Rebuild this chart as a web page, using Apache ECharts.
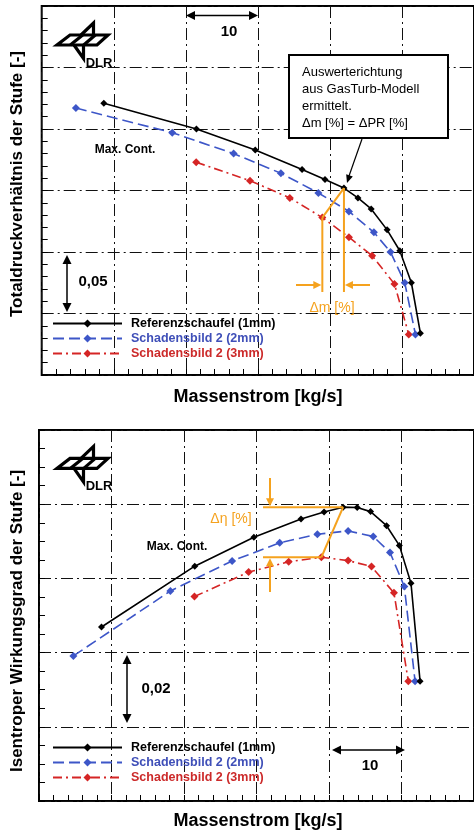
<!DOCTYPE html>
<html>
<head>
<meta charset="utf-8">
<script src="https://cdn.jsdelivr.net/npm/echarts@6/dist/echarts.min.js"></script>
<style>
html,body{margin:0;padding:0;background:#fff;}
#c{width:474px;height:834px;}
</style>
</head>
<body>
<div id="c"></div>
<script>
// ---- data ----
const seriesNames = ['Referenzschaufel (1mm)', 'Schadensbild 2 (2mm)', 'Schadensbild 2 (3mm)'];
// mass flow (x) for each curve, identical operating points in both panels
const refX = [8.62, 21.48, 29.64, 36.14, 39.32, 41.95, 43.89, 45.73, 47.94, 49.70, 51.31, 52.56];
const sb2X = [4.74, 18.12, 26.64, 33.20, 38.40, 42.64, 46.10, 48.41, 50.39, 51.87];
const sb3X = [21.44, 28.91, 34.44, 38.95, 42.64, 45.86, 48.96, 50.94];
// total pressure ratio (top panel)
const refPR = [1.421, 1.400, 1.383, 1.367, 1.359, 1.352, 1.344, 1.335, 1.318, 1.301, 1.275, 1.234];
const sb2PR = [1.417, 1.397, 1.380, 1.364, 1.348, 1.333, 1.316, 1.300, 1.275, 1.233];
const sb3PR = [1.373, 1.358, 1.344, 1.328, 1.312, 1.297, 1.274, 1.233];
// isentropic efficiency (bottom panel)
const refEta = [0.8469, 0.8633, 0.8711, 0.8760, 0.8779, 0.8792, 0.8791, 0.8780, 0.8742, 0.8689, 0.8587, 0.8323];
const sb2Eta = [0.8391, 0.8566, 0.8647, 0.8696, 0.8719, 0.8728, 0.8713, 0.8670, 0.8578, 0.8323];
const sb3Eta = [0.8551, 0.8617, 0.8645, 0.8657, 0.8648, 0.8632, 0.8561, 0.8323];
// axis ranges
const xRange = [0, 60, 10];
const prRange = [1.20, 1.50, 0.05];
const etaRange = [0.80, 0.90, 0.02];

const BLACK = '#000000', BLUE = '#3d56c8', RED = '#d52525', ORANGE = '#f5a21e';
const FONT = '"Liberation Sans", Arial, sans-serif';

function zip(xs, ys) { return xs.map((x, i) => [x, ys[i]]); }

const dashDot = [12, 4, 2, 4];
function mkX(gi) {
  return {
    type: 'value', gridIndex: gi, min: xRange[0], max: xRange[1], interval: xRange[2],
    axisLine: { show: false }, axisLabel: { show: false },
    axisTick: { show: true, inside: true, length: 6, lineStyle: { color: '#000', width: 1 } },
    minorTick: { show: true, splitNumber: 5, length: 6, lineStyle: { color: '#000', width: 1 } },
    splitLine: { show: true, lineStyle: { color: '#111', width: 1, type: dashDot } }
  };
}
function mkY(gi, r, minorN) {
  return {
    type: 'value', gridIndex: gi, min: r[0], max: r[1], interval: r[2],
    axisLine: { show: false }, axisLabel: { show: false },
    axisTick: { show: true, inside: true, length: 6, lineStyle: { color: '#000', width: 1 } },
    minorTick: { show: true, splitNumber: minorN, length: 6, lineStyle: { color: '#000', width: 1 } },
    splitLine: { show: true, lineStyle: { color: '#111', width: 1, type: dashDot } }
  };
}
const styles = [
  { color: BLACK, type: 'solid', size: 7 },
  { color: BLUE, type: [11, 5], size: 8 },
  { color: RED, type: [9, 4, 2, 4], size: 8 }
];
function mkSeries(gi, idx, data) {
  const s = styles[idx];
  return {
    type: 'line', name: seriesNames[idx], xAxisIndex: gi, yAxisIndex: gi,
    data: data, symbol: 'diamond', symbolSize: s.size, showSymbol: true,
    lineStyle: { color: s.color, width: 1.6, type: s.type },
    itemStyle: { color: s.color }, z: 5 - idx, animation: false
  };
}
function mkLegend(top) {
  return {
    orient: 'vertical', left: 52, top: top, itemWidth: 69, itemHeight: 10, itemGap: 2, padding: 0,
    selectedMode: false,
    textStyle: { fontFamily: FONT, fontWeight: 'bold', fontSize: 12.5, color: '#000', padding: [0, 0, 0, 4] },
    data: [
      { name: seriesNames[0], textStyle: { color: '#000' } },
      { name: seriesNames[1], textStyle: { color: '#3f4fb8' } },
      { name: seriesNames[2], textStyle: { color: '#cc2a2a' } }
    ]
  };
}

const chart = echarts.init(document.getElementById('c'), null, { renderer: 'canvas' });
const option = {
  backgroundColor: '#fff',
  animation: false,
  grid: [
    { left: 41.7, top: 6, width: 434, height: 369, show: true, borderColor: '#000', borderWidth: 2, backgroundColor: 'transparent' },
    { left: 39, top: 430, width: 438, height: 371, show: true, borderColor: '#000', borderWidth: 2, backgroundColor: 'transparent' }
  ],
  xAxis: [mkX(0), mkX(1)],
  yAxis: [mkY(0, prRange, 5), mkY(1, etaRange, 4)],
  legend: [mkLegend(317), mkLegend(741)],
  series: [
    mkSeries(0, 0, zip(refX, refPR)), mkSeries(0, 1, zip(sb2X, sb2PR)), mkSeries(0, 2, zip(sb3X, sb3PR)),
    mkSeries(1, 0, zip(refX, refEta)), mkSeries(1, 1, zip(sb2X, sb2Eta)), mkSeries(1, 2, zip(sb3X, sb3Eta))
  ]
};
chart.setOption(option);

// ---- annotations ----
const G = [];
function line(x1, y1, x2, y2, color, w) {
  G.push({ type: 'line', z: 20, shape: { x1, y1, x2, y2 }, style: { stroke: color, lineWidth: w || 1.5 } });
}
function head(x, y, dx, dy, color, L, W) {
  L = L || 8; W = W || 4;
  const n = Math.hypot(dx, dy); dx /= n; dy /= n;
  const bx = x - dx * L, by = y - dy * L;
  G.push({ type: 'polygon', z: 21, shape: { points: [[x, y], [bx - dy * W, by + dx * W], [bx + dy * W, by - dx * W]] }, style: { fill: color } });
}
function text(t, x, y, font, color, align, rot) {
  G.push({ type: 'text', z: 22, x, y, rotation: rot || 0,
    style: { text: t, font, fill: color, align: align || 'center', verticalAlign: 'middle' } });
}
function logo(ox, oy) {
  const st = { stroke: '#000', lineWidth: 3.2, fill: null, lineJoin: 'miter' };
  const P = (x, y) => [ox + x, oy + y];
  G.push({ type: 'polygon', z: 20, shape: { points: [P(30, 25), P(68, 25), P(57, 35), P(17, 35)] }, style: st });
  G.push({ type: 'line', z: 20, shape: { x1: ox + 42.7, y1: oy + 25, x2: ox + 30.3, y2: oy + 35 }, style: st });
  G.push({ type: 'line', z: 20, shape: { x1: ox + 55.3, y1: oy + 25, x2: ox + 43.7, y2: oy + 35 }, style: st });
  G.push({ type: 'polyline', z: 20, shape: { points: [P(53.5, 25), P(53.5, 13), P(41, 25)] }, style: st });
  G.push({ type: 'polyline', z: 20, shape: { points: [P(34, 35), P(43.5, 48.5), P(43.5, 35)] }, style: st });
  text('DLR', ox + 59, oy + 53, 'bold 13px ' + FONT, '#000');
}

// axis titles
text('Massenstrom [kg/s]', 258, 397, 'bold 18px ' + FONT, '#000');
text('Massenstrom [kg/s]', 258, 821, 'bold 18px ' + FONT, '#000');
text('Totaldruckverhältnis der Stufe [-]', 17, 184, 'bold 17px ' + FONT, '#000', 'center', Math.PI / 2);
text('Isentroper Wirkungsgrad der Stufe [-]', 17, 621, 'bold 17px ' + FONT, '#000', 'center', Math.PI / 2);

// top panel
logo(40, 10);
line(190, 15.5, 254, 15.5, '#000', 1.5); head(186, 15.5, -1, 0, '#000', 9, 4.5); head(258, 15.5, 1, 0, '#000', 9, 4.5);
text('10', 229, 32, 'bold 15px ' + FONT, '#000');
line(67, 260, 67, 307, '#000', 1.5); head(67, 255, 0, -1, '#000', 9, 4.5); head(67, 312, 0, 1, '#000', 9, 4.5);
text('0,05', 93, 282, 'bold 15px ' + FONT, '#000');
text('Max. Cont.', 125, 150, 'bold 12px ' + FONT, '#000');
G.push({ type: 'rect', z: 20, shape: { x: 289, y: 55, width: 159, height: 83 }, style: { fill: '#fff', stroke: '#000', lineWidth: 2 } });
text('Auswerterichtung', 302, 72, '13px ' + FONT, '#000', 'left');
text('aus GasTurb-Modell', 302, 89, '13px ' + FONT, '#000', 'left');
text('ermittelt.', 302, 106, '13px ' + FONT, '#000', 'left');
text('\u0394m [%] = \u0394PR [%]', 302, 123, '13px ' + FONT, '#000', 'left');
line(362, 139, 349, 176, '#000', 1.2); head(347, 183, -0.33, 1, '#000', 8, 3.5);

// orange annotations anchored to data points
const tRed = chart.convertToPixel({ gridIndex: 0 }, [sb3X[3], sb3PR[3]]);
const tBlk = chart.convertToPixel({ gridIndex: 0 }, [refX[5], refPR[5]]);
line(tRed[0], tRed[1], tBlk[0], tBlk[1], ORANGE, 2);
line(tRed[0], tRed[1], tRed[0], 292, ORANGE, 2);
line(tBlk[0], tBlk[1], tBlk[0], 292, ORANGE, 2);
line(296, 285, tRed[0] - 7, 285, ORANGE, 2); head(tRed[0] - 1, 285, 1, 0, ORANGE, 8, 4);
line(370, 285, tBlk[0] + 7, 285, ORANGE, 2); head(tBlk[0] + 1, 285, -1, 0, ORANGE, 8, 4);
text('\u0394m [%]', 332, 308, '14px ' + FONT, ORANGE);

// bottom panel
logo(40, 433.4);
line(336, 750, 401, 750, '#000', 1.5); head(332, 750, -1, 0, '#000', 9, 4.5); head(405, 750, 1, 0, '#000', 9, 4.5);
text('10', 370, 766, 'bold 15px ' + FONT, '#000');
line(127, 660, 127, 718, '#000', 1.5); head(127, 655, 0, -1, '#000', 9, 4.5); head(127, 723, 0, 1, '#000', 9, 4.5);
text('0,02', 156, 689, 'bold 15px ' + FONT, '#000');
text('Max. Cont.', 177, 547, 'bold 12px ' + FONT, '#000');

const bRed = chart.convertToPixel({ gridIndex: 1 }, [sb3X[3], sb3Eta[3]]);
const bBlk = chart.convertToPixel({ gridIndex: 1 }, [refX[5], refEta[5]]);
line(263, bBlk[1], bBlk[0], bBlk[1], ORANGE, 2);
line(263, bRed[1], bRed[0], bRed[1], ORANGE, 2);
line(bRed[0], bRed[1], bBlk[0], bBlk[1], ORANGE, 2);
line(270, 478, 270, bBlk[1] - 6, ORANGE, 2); head(270, bBlk[1] - 1, 0, 1, ORANGE, 8, 4);
line(270, 592, 270, bRed[1] + 6, ORANGE, 2); head(270, bRed[1] + 1, 0, -1, ORANGE, 8, 4);
text('\u0394\u03b7 [%]', 231, 519, '14px ' + FONT, ORANGE);

chart.setOption({ graphic: { elements: G } });
</script>
</body>
</html>
